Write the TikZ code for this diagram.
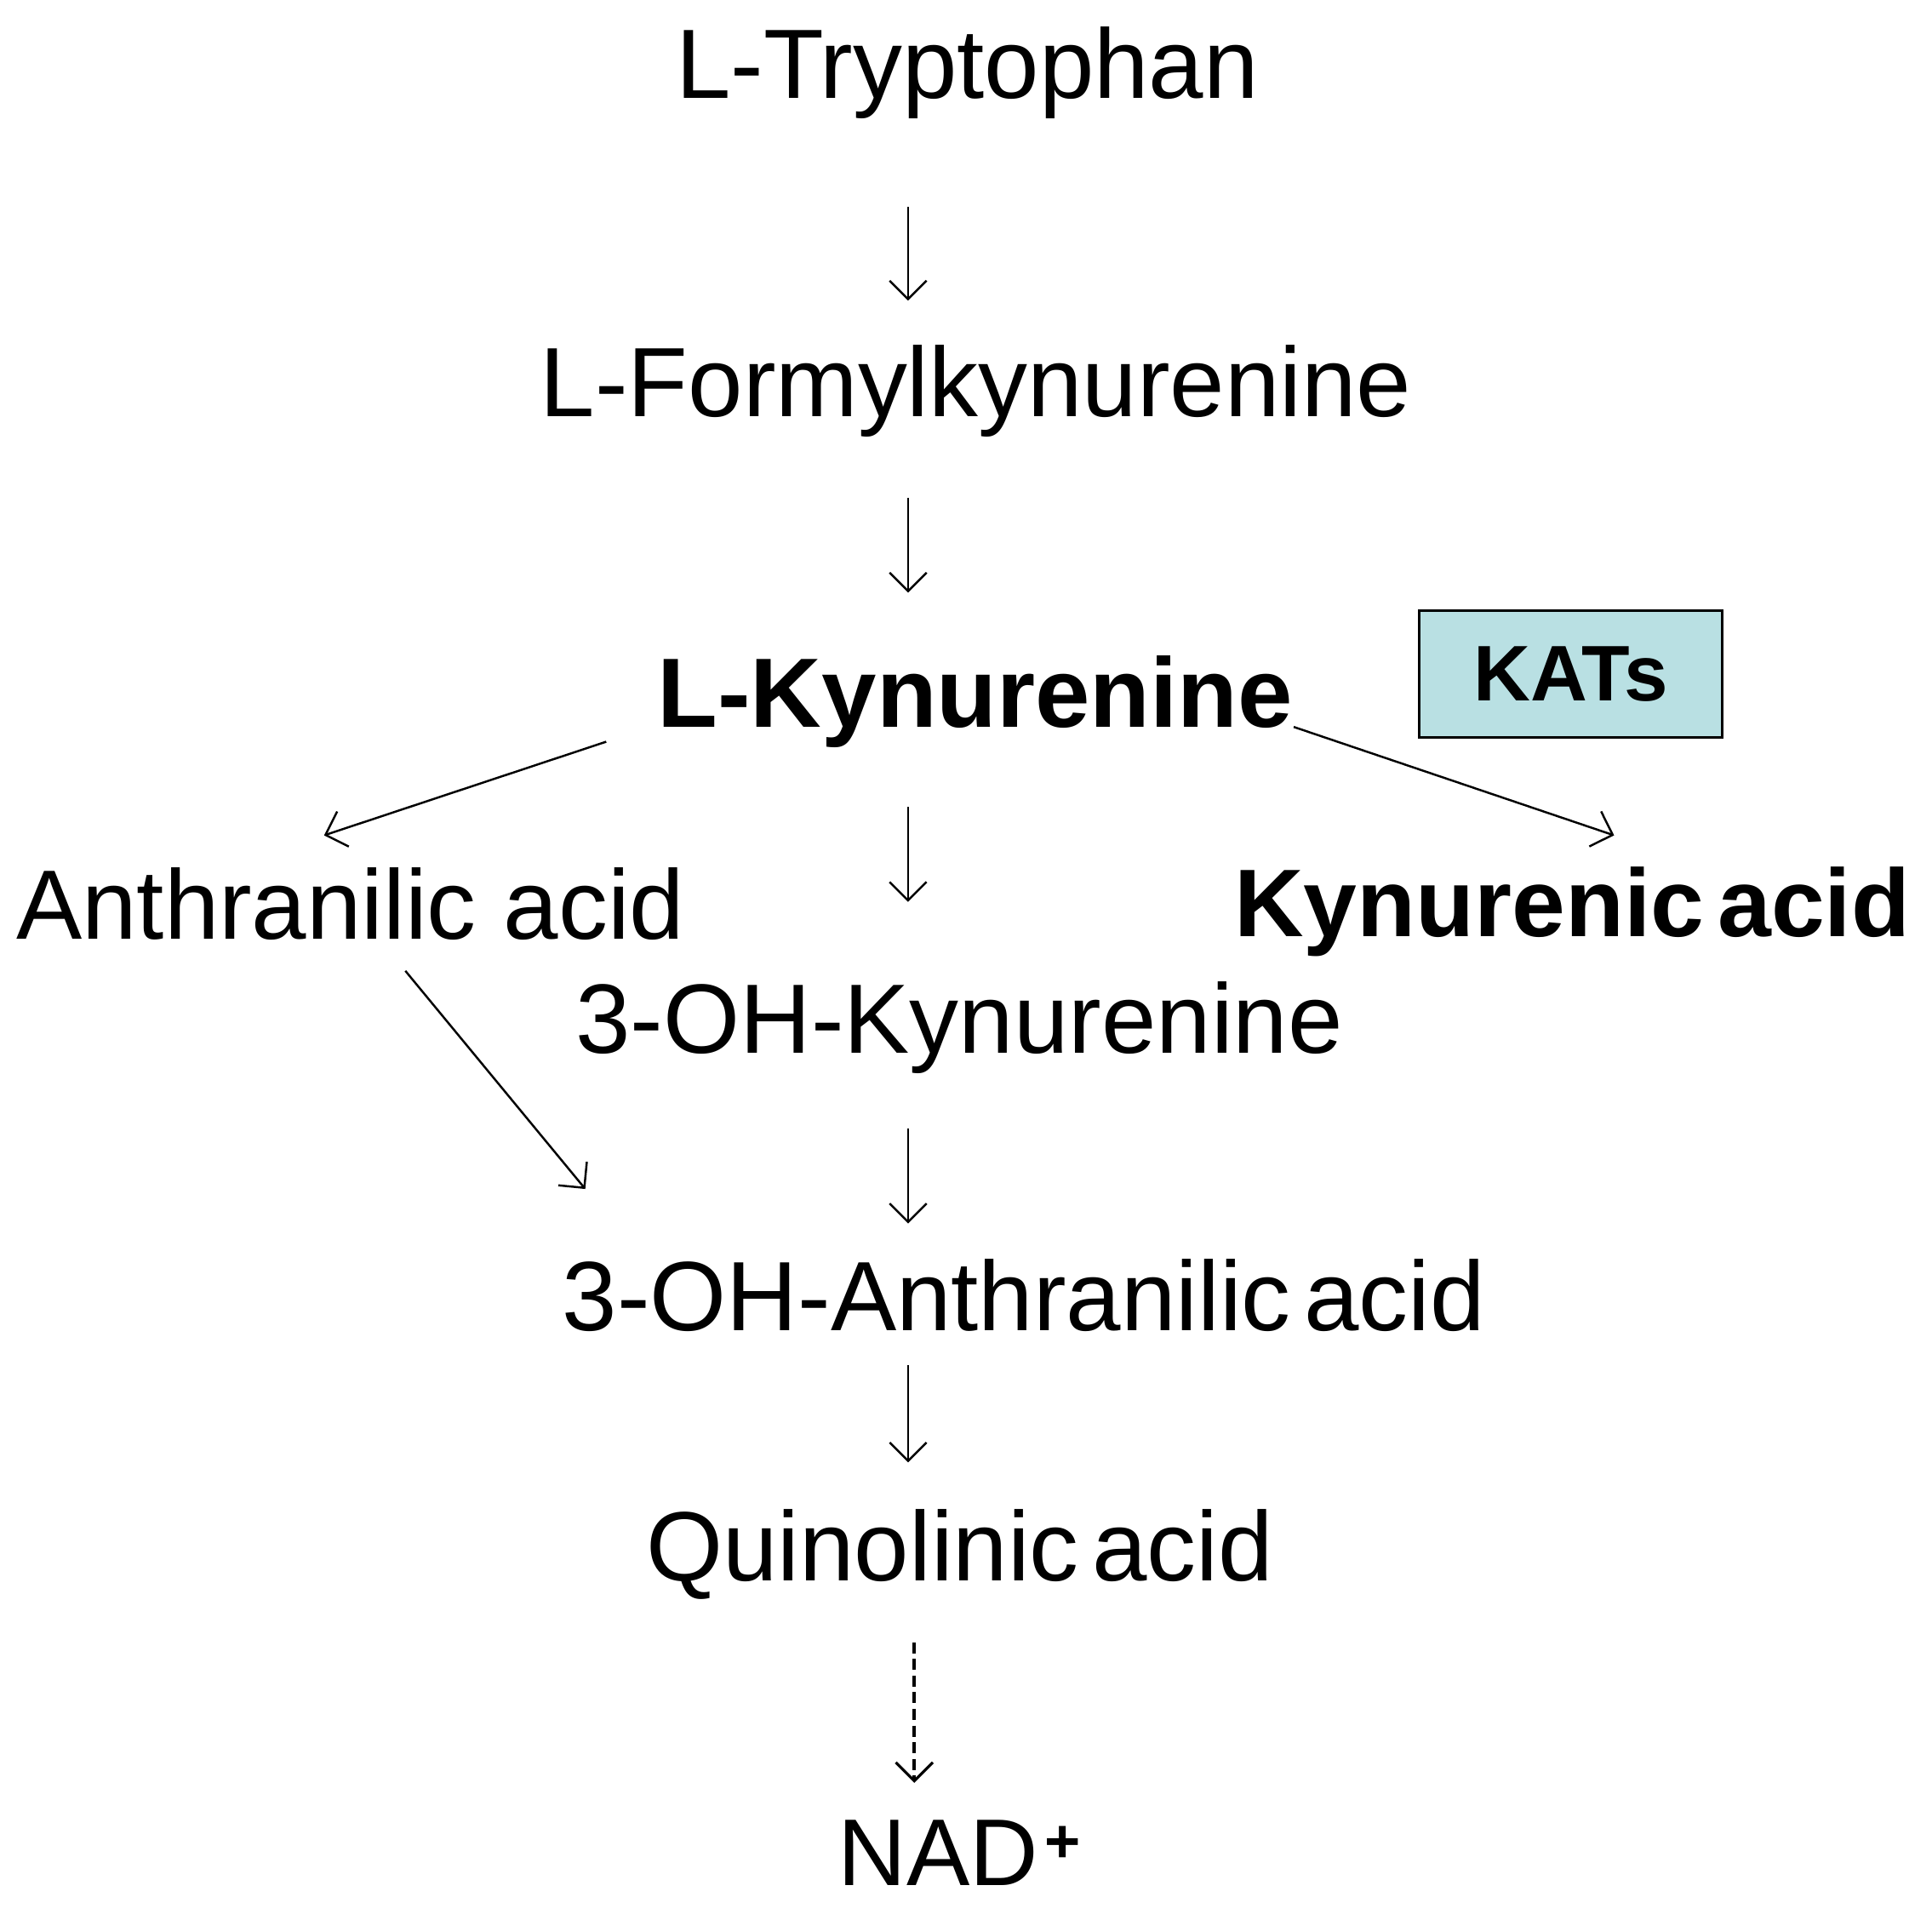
\documentclass[tikz,border=0pt]{standalone}
\usepackage{fontspec}
\setmainfont{Liberation Sans}
\usetikzlibrary{arrows.meta}
\definecolor{katsfill}{HTML}{B9E0E3}
\newcommand{\tightsp}{\hspace{11pt}}
\begin{document}
\begin{tikzpicture}[x=1pt,y=-1pt,
  lbl/.style={anchor=base,inner sep=0pt,font=\fontsize{80}{96}\selectfont},
  blbl/.style={anchor=base,inner sep=0pt,font=\fontsize{80}{96}\selectfont\bfseries},
  arr/.style={line width=1.7pt,-{Straight Barb[length=15pt,width=30pt,line width=1.7pt]}},
  darr/.style={line width=3pt,dash pattern=on 9pt off 4.5pt,-{Straight Barb[length=15pt,width=30pt,line width=2.2pt]}},
  enzyme/.style={draw,line width=2pt,fill=katsfill,minimum width=246pt,minimum height=103pt,inner sep=0pt,font=\fontsize{64}{72}\selectfont\bfseries}]
\path[use as bounding box,fill=white] (0,0) rectangle (1568,1553);
\node[lbl] (trp) at (785,80) {L-Tryptophan};
\node[lbl] (form) at (792,338) {L-Formylkynurenine};
\node[blbl] (kyn) at (791.5,590) {L-Kynurenine};
\node[enzyme] (kats) at (1275,547) {KATs};
\node[lbl] (anth) at (284.5,762) {Anthranilic acid};
\node[blbl,font=\fontsize{78}{96}\selectfont\bfseries] (kyna) at (1276,760) {Kynurenic\tightsp acid};
\node[lbl] (ohk) at (778.5,855) {3-OH-Kynurenine};
\node[lbl] (oha) at (831,1080) {3-OH-Anthranilic\tightsp acid};
\node[lbl] (quin) at (779,1283) {Quinolinic\tightsp acid};
\node[lbl,anchor=base west,font=\fontsize{77}{96}\selectfont] (nad) at (680,1530) {NAD\hspace{5pt}\raisebox{18pt}{\fontsize{50}{50}\selectfont\bfseries +}};
% connector end points
\coordinate (trpS) at (737,168);  \coordinate (formN) at (737,244);
\coordinate (formS) at (737,404); \coordinate (kynN) at (737,481);
\coordinate (kynS) at (737,655);  \coordinate (ohkN) at (737,732);
\coordinate (ohkS) at (737,916);  \coordinate (ohaN) at (737,993);
\coordinate (ohaS) at (737,1108); \coordinate (quinN) at (737,1187);
\coordinate (quinS) at (742,1333); \coordinate (nadN) at (742,1447);
\coordinate (kynW) at (492,602);  \coordinate (anthNE) at (263,678);
\coordinate (kynE) at (1050,590); \coordinate (kynaN) at (1310,678);
\coordinate (anthS) at (329,788); \coordinate (ohaNW) at (475,965);
\draw[arr] (trpS) -- (formN);
\draw[arr] (formS) -- (kynN);
\draw[arr] (kynS) -- (ohkN);
\draw[arr] (ohkS) -- (ohaN);
\draw[arr] (ohaS) -- (quinN);
\draw[darr] (quinS) -- (nadN);
\draw[arr] (kynW) -- (anthNE);
\draw[arr] (kynE) -- (kynaN);
\draw[arr] (anthS) -- (ohaNW);
\end{tikzpicture}
\end{document}
